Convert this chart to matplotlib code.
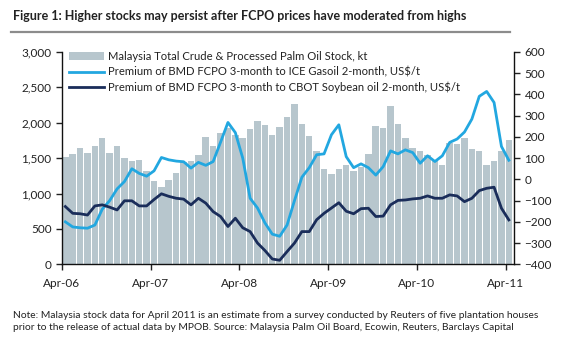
import matplotlib.pyplot as plt
import numpy as np

# monthly, Apr-06 .. Apr-11
months = [f"{m}-{y:02d}" for y in range(6, 12) for m in
          ["Jan", "Feb", "Mar", "Apr", "May", "Jun", "Jul", "Aug", "Sep", "Oct", "Nov", "Dec"]][3:64]

stock_kt = [1520, 1565, 1650, 1578, 1675, 1790, 1578, 1675, 1505, 1465, 1478, 1320,
            1180, 1092, 1192, 1293, 1450, 1455, 1546, 1800, 1673, 1860, 1920, 1830,
            1787, 1914, 2027, 1970, 1833, 1942, 2088, 2267, 1984, 1815, 1600, 1348,
            1277, 1348, 1400, 1324, 1381, 1560, 1960, 1928, 2230, 1984, 1782, 1641,
            1607, 1546, 1475, 1405, 1711, 1700, 1787, 1631, 1607, 1405, 1466, 1607,
            1758]

prem_gasoil = [-200, -224, -228, -230, -215, -140, -100, -45, -10, 50, 28, 15,
               40, 103, 92, 86, 83, 53, 80, 66, 84, 175, 268, 220,
               100, -89, -135, -205, -258, -268, -215, -100, 10, 55, 116, 120,
               210, 257, 107, 55, 73, 55, 20, 60, 134, 120, 139, 126,
               76, 111, 84, 111, 174, 190, 223, 284, 391, 414, 362, 155,
               90]

prem_soy = [-128, -160, -162, -168, -125, -120, -131, -144, -101, -101, -125, -125,
            -95, -68, -80, -89, -93, -120, -89, -112, -152, -175, -222, -183,
            -228, -246, -300, -335, -375, -381, -340, -300, -246, -246, -190, -160,
            -135, -110, -150, -162, -138, -136, -175, -173, -120, -99, -97, -92,
            -89, -78, -89, -89, -73, -78, -105, -89, -53, -42, -37, -136,
            -191]

tick_labels = ["Apr-06", "Apr-07", "Apr-08", "Apr-09", "Apr-10", "Apr-11"]

BAR = "#b7c6cd"
LIGHT = "#22a7e0"
NAVY = "#1a2d5a"
TXT = "#222222"

plt.rcParams["font.family"] = ["Lato", "DejaVu Sans"]

fig = plt.figure(figsize=(5.71, 3.51), dpi=100)
ax = fig.add_axes([0.1086, 0.247, 0.7916, 0.605])
ax2 = ax.twinx()

x = np.arange(len(stock_kt))
b = ax.bar(x, stock_kt, width=0.88, align="edge", color=BAR, linewidth=0,
           label="Malaysia Total Crude & Processed Palm Oil Stock, kt")
l1, = ax2.plot(x + 0.45, prem_gasoil, color=LIGHT, lw=2.0,
               label="Premium of BMD FCPO 3-month to ICE Gasoil 2-month, US$/t")
l2, = ax2.plot(x + 0.45, prem_soy, color=NAVY, lw=2.0,
               label="Premium of BMD FCPO 3-month to CBOT Soybean oil 2-month, US$/t")

ax.set_xlim(0, 61.15)
ax.set_ylim(0, 3000)
ax2.set_ylim(-400, 600)
ax.set_yticks(range(0, 3001, 500))
ax.set_yticklabels([f"{v:,}" for v in range(0, 3001, 500)])
ax2.set_yticks(range(-400, 601, 100))
ax.set_xticks(range(0, 61, 12))
ax.set_xticklabels(tick_labels)

for a in (ax, ax2):
    a.spines["top"].set_visible(False)
    for s in a.spines.values():
        s.set_linewidth(1.0)
        s.set_color("#111111")
    a.tick_params(labelsize=8.5, colors=TXT, length=4, width=1.0, direction="out")
ax.spines["right"].set_visible(False)
ax2.spines["left"].set_visible(False)
ax2.spines["bottom"].set_visible(False)
ax.tick_params(axis="x", pad=6)

leg = ax2.legend(handles=[b, l1, l2], loc="upper left", bbox_to_anchor=(0.005, 1.025),
                 frameon=False, fontsize=8.1, handlelength=3.1, handletextpad=0.35,
                 labelspacing=0.38, borderaxespad=0)
for t in leg.get_texts():
    t.set_color(TXT)

fig.text(0.023, 0.955, "Figure 1: Higher stocks may persist after FCPO prices have moderated from highs",
         fontsize=9.0, fontweight="bold", color=TXT, va="center", ha="left")
fig.add_artist(plt.Line2D([0.019, 0.893], [0.909, 0.909], color="#8c8c8c", lw=1.6))

fig.text(0.023, 0.084,
         "Note: Malaysia stock data for April 2011 is an estimate from a survey conducted by Reuters of five plantation houses\n"
         "prior to the release of actual data by MPOB. Source: Malaysia Palm Oil Board, Ecowin, Reuters, Barclays Capital",
         fontsize=7.35, color=TXT, va="center", ha="left", linespacing=1.35)

fig.savefig("out.png", dpi=100)
